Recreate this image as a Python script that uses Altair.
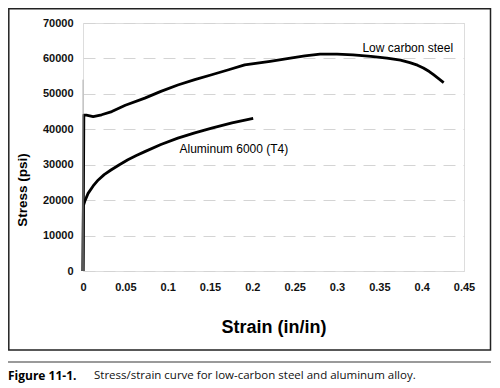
import altair as alt
import pandas as pd

# ---- data ----
steel_strain = [0.0, 0.001, 0.004, 0.012, 0.022, 0.034, 0.05, 0.073, 0.092, 0.112, 0.132,
                0.152, 0.172, 0.191, 0.221, 0.245, 0.262, 0.28, 0.3, 0.319, 0.34, 0.359,
                0.375, 0.386, 0.395, 0.402, 0.409, 0.414, 0.42, 0.426]
steel_stress = [0, 44000, 44000, 43600, 44100, 45000, 46800, 48800, 50700, 52500, 54000,
                55400, 56800, 58200, 59200, 60100, 60700, 61200, 61200, 61000, 60600, 60100,
                59500, 58800, 58100, 57300, 56300, 55400, 54300, 53200]

al_strain = [0.0, 0.0005, 0.002, 0.006, 0.012, 0.018, 0.025, 0.033, 0.043, 0.053, 0.063,
             0.073, 0.092, 0.112, 0.132, 0.152, 0.176, 0.201]
al_stress = [0, 18500, 19600, 21900, 24000, 25700, 27200, 28500, 30000, 31400, 32600,
             33700, 35700, 37500, 39000, 40300, 41800, 43100]

x_ticks = [0, 0.05, 0.1, 0.15, 0.2, 0.25, 0.3, 0.35, 0.4, 0.45]
y_ticks = [0, 10000, 20000, 30000, 40000, 50000, 60000, 70000]

series_labels = ["Low carbon steel", "Aluminum 6000 (T4)"]
label_strain = [0.33, 0.114]
label_stress = [63000, 34500]

x_title = "Strain (in/in)"
y_title = "Stress (psi)"
caption_bold = "Figure 11-1."
caption_text = "Stress/strain curve for low-carbon steel and aluminum alloy."

# ---- tables ----
rows = []
for i, (s, t) in enumerate(zip(steel_strain, steel_stress)):
    rows.append({"series": "steel", "strain": s, "stress": t, "order": i})
for i, (s, t) in enumerate(zip(al_strain, al_stress)):
    rows.append({"series": "aluminum", "strain": s, "stress": t, "order": i})
curves = pd.DataFrame(rows)
labels = pd.DataFrame({"label": series_labels, "strain": label_strain, "stress": label_stress})
one = pd.DataFrame({"a": [0]})
axis_seg = pd.DataFrame({"strain": [0], "stress": [0], "stress2": [54000]})

FONT = "Liberation Sans"
CAP_FONT = "Open Sans"

xscale = alt.Scale(domain=[0, 0.45], nice=False, zero=True)
yscale = alt.Scale(domain=[0, 70000], nice=False)

xaxis = alt.Axis(values=x_ticks, format="~g", title=None, grid=False, domain=False,
                 ticks=False, tickSize=0, labelPadding=10, labelFont=FONT,
                 labelFontSize=11, labelFontWeight="bold", labelColor="#111",
                 labelFlush=False, labelOverlap=False)
yaxis = alt.Axis(values=y_ticks, format="d", title=None, grid=True, gridColor="#d4d4d4",
                 gridDash=[12, 8], gridWidth=1, domain=False, ticks=False, tickSize=0,
                 labelPadding=10, labelFont=FONT, labelFontSize=11,
                 labelFontWeight="bold", labelColor="#111", labelOverlap=False)

X = alt.X("strain:Q", scale=xscale, axis=xaxis)
Y = alt.Y("stress:Q", scale=yscale, axis=yaxis)

lines = alt.Chart(curves).mark_line(color="black", strokeWidth=2.8, strokeJoin="round").encode(
    x=X, y=Y, detail="series:N", order="order:Q",
)

yaxis_line = alt.Chart(axis_seg).mark_rule(color="#b0b0b0", strokeWidth=1).encode(
    x=X, y=Y, y2="stress2:Q",
)

label_marks = alt.Chart(labels).mark_text(
    font=FONT, fontSize=12, color="black", align="left", baseline="middle"
).encode(x=X, y=Y, text="label:N")

frame = alt.Chart(one).mark_rect(filled=False, stroke="#222", strokeWidth=1.5).encode(
    x=alt.value(-74.2), x2=alt.value(407.5), y=alt.value(-14.2), y2=alt.value(327)
)

sep = alt.Chart(one).mark_rule(color="#9a9a9a", strokeWidth=2).encode(
    x=alt.value(-75), x2=alt.value(408), y=alt.value(339)
)

xt = alt.Chart(one).mark_text(font=FONT, fontSize=18, fontWeight="bold", color="black",
                              baseline="middle", align="center").encode(
    x=alt.value(191), y=alt.value(305), text=alt.value(x_title)
)

yt = alt.Chart(one).mark_text(font=FONT, fontSize=13.5, fontWeight="bold", color="black",
                              baseline="middle", align="center", angle=270).encode(
    x=alt.value(-60), y=alt.value(167), text=alt.value(y_title)
)

cap1 = alt.Chart(one).mark_text(font=CAP_FONT, fontSize=12, fontWeight="bold",
                                color="black", baseline="middle", align="left").encode(
    x=alt.value(-75), y=alt.value(353), text=alt.value(caption_bold)
)
cap2 = alt.Chart(one).mark_text(font=CAP_FONT, fontSize=11.5, color="#111",
                                baseline="middle", align="left").encode(
    x=alt.value(11), y=alt.value(353), text=alt.value(caption_text)
)

chart = alt.layer(lines, yaxis_line, label_marks, frame, sep, xt, yt, cap1, cap2).properties(
    width=381, height=248,
    autosize=alt.AutoSizeParams(type="none"),
    padding={"left": 75, "top": 15, "right": 28, "bottom": 113},
).configure_view(stroke=None).configure(background="white")

chart.save("out.html", embed_options={"renderer": "svg", "actions": False})
